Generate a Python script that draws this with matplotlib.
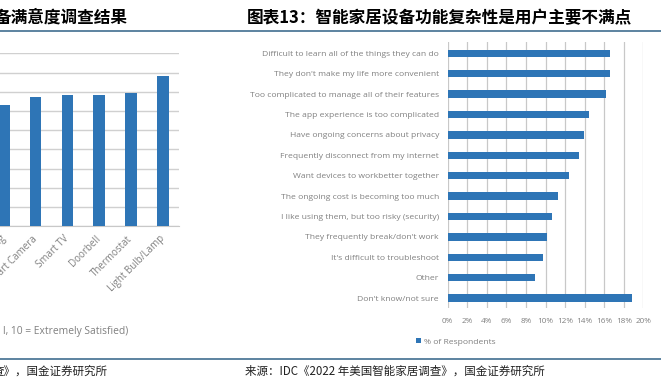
import matplotlib.pyplot as plt

plt.rcParams['font.family'] = ['Open Sans', 'Noto Sans CJK SC', 'DejaVu Sans']

# left panel (cut off by the page edge)
sat_devices = ['Smart Plug', 'Smart Camera', 'Smart TV', 'Doorbell', 'Thermostat', 'Light Bulb/Lamp']
sat_scores = [6.3, 6.72, 6.82, 6.82, 6.92, 7.8]

# right panel
reasons = ['Difficult to learn all of the things they can do',
           "They don't make my life more convenient",
           'Too complicated to manage all of their features',
           'The app experience is too complicated',
           'Have ongoing concerns about privacy',
           'Frequently disconnect from my internet',
           'Want devices to workbetter together',
           'The ongoing cost is becoming too much',
           'I like using them, but too risky (security)',
           "They frequently break/don't work",
           "It's difficult to troubleshoot",
           'Other',
           "Don't know/not sure"]
pct = [16.6, 16.6, 16.15, 14.45, 13.9, 13.4, 12.4, 11.25, 10.7, 10.2, 9.7, 8.95, 18.8]
x_ticks = [0, 2, 4, 6, 8, 10, 12, 14, 16, 18, 20]

W, H = 661, 391
blue = '#2e75b6'
gray = '#808080'
line_col = '#4f7a99'

fig = plt.figure(figsize=(W / 100, H / 100), dpi=100)


def fx(px):
    return px / W


def fy(py):
    return 1 - py / H


# header / footer rules and texts
for y in (31, 359):
    fig.add_artist(plt.Line2D([0, 1], [fy(y), fy(y)], color=line_col, lw=1.3))

cjk = ['Noto Sans CJK SC', 'DejaVu Sans']
fig.text(fx(128), fy(18), '备满意度调查结果', ha='right', va='center',
         fontsize=12, fontweight='bold', family=cjk)
fig.text(fx(247), fy(18), '图表13：智能家居设备功能复杂性是用户主要不满点', ha='left', va='center',
         fontsize=12, fontweight='bold', family=cjk)
fig.text(fx(108), fy(371.5), '查》，国金证券研究所', ha='right', va='center',
         fontsize=8.3, family=cjk, color='#222222')
fig.text(fx(245), fy(371.5), '来源：IDC《2022 年美国智能家居调查》，国金证券研究所', ha='left', va='center',
         fontsize=8.3, family=cjk, color='#222222')

# ---- left panel ----
axl = fig.add_axes([fx(-12.2), fy(226.3), fx(191.2), (226.3 - 53.3) / H])
axl.bar(range(len(sat_devices)), sat_scores, width=0.37, color=blue, zorder=3)
axl.set_xlim(-0.5, len(sat_devices) - 0.5)
axl.set_ylim(0, 9)
axl.set_yticks(range(10))
axl.yaxis.grid(True, color='#d0d0d0', lw=1)
axl.set_axisbelow(True)
axl.tick_params(axis='y', left=False, labelleft=False)
axl.tick_params(axis='x', length=0, pad=8)
axl.set_xticks(range(len(sat_devices)))
axl.set_xticklabels(sat_devices, rotation=45, ha='right', va='center', rotation_mode='anchor',
                    fontsize=7, color=gray)
for s in ['top', 'left', 'right']:
    axl.spines[s].set_visible(False)
axl.spines['bottom'].set_color('#c8c8c8')
fig.text(fx(128), fy(331.5), 'l, 10 = Extremely Satisfied)', ha='right', va='center',
         fontsize=7.4, color=gray)

# ---- right panel ----
axr = fig.add_axes([fx(447.7), fy(308.3), fx(195.6), (308.3 - 41.7) / H])
ypos = list(range(len(reasons)))
axr.barh(ypos, pct, height=0.36, color=blue, zorder=3, label='% of Respondents')
axr.set_xlim(0, 20)
axr.set_ylim(len(reasons) - 0.5, -0.57)
axr.set_xticks(x_ticks)
axr.set_xticklabels([f'{t}%' for t in x_ticks], fontsize=5.9, color=gray)
axr.set_yticks(ypos)
axr.set_yticklabels(reasons, fontsize=6.1, color=gray)
axr.tick_params(axis='both', length=0)
axr.tick_params(axis='y', pad=6.3)
axr.tick_params(axis='x', pad=7)
axr.xaxis.grid(True, color='#c8c8c8', lw=0.9)
axr.set_axisbelow(True)
for s in axr.spines.values():
    s.set_visible(False)
axr.legend(loc='center', bbox_to_anchor=(fx(456), fy(341.7)), bbox_transform=fig.transFigure,
           frameon=False, fontsize=6.1, labelcolor=gray, handlelength=0.6, handleheight=0.6,
           handletextpad=0.3)

fig.savefig('out.png', dpi=100)
